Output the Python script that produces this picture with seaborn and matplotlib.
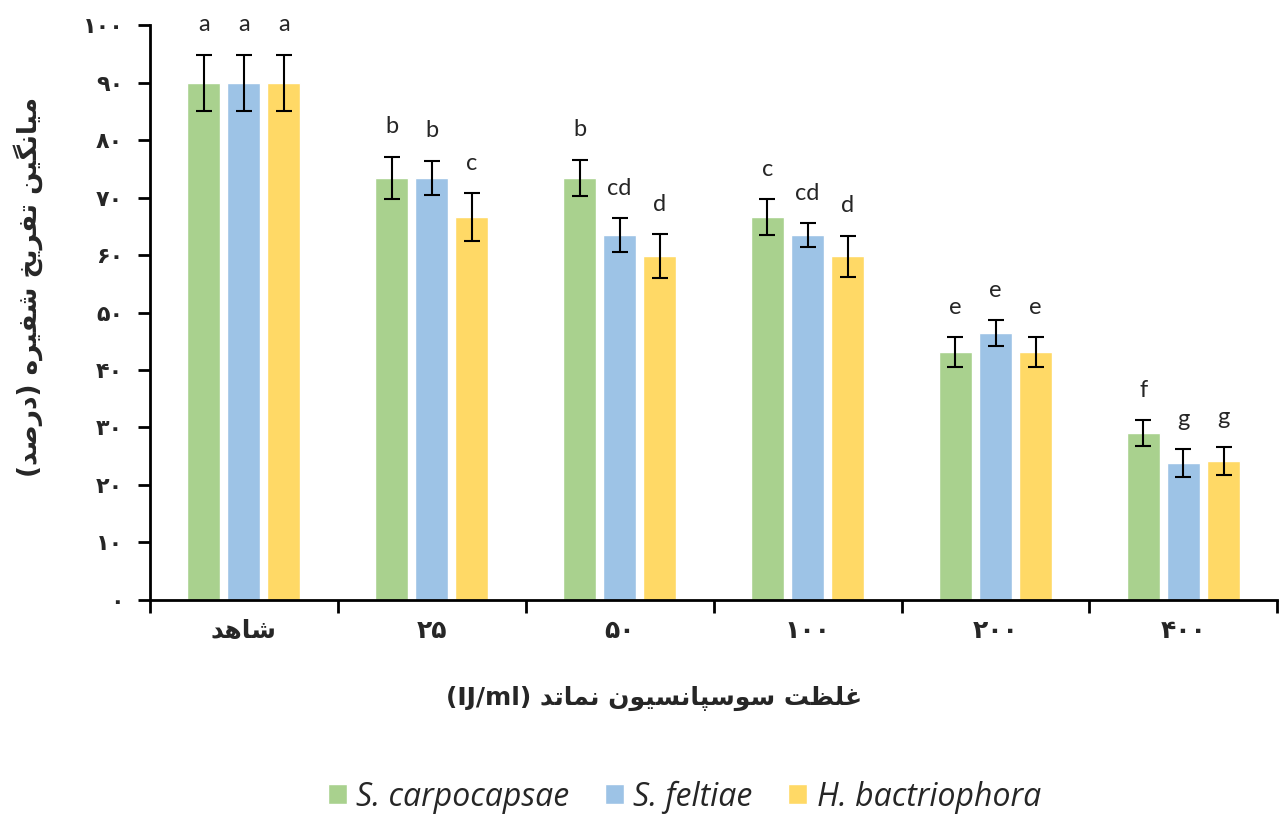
import matplotlib
matplotlib.use('Agg')

import matplotlib.pyplot as plt
import seaborn as sns
import pandas as pd
import numpy as np

# data
categories = ['شاهد', '۲۵', '۵۰', '۱۰۰', '۲۰۰', '۴۰۰']
species = ['S. carpocapsae', 'S. feltiae', 'H. bactriophora']
sc_mean = [90.0, 73.4, 73.4, 66.6, 43.1, 29.0]
sf_mean = [90.0, 73.4, 63.5, 63.5, 46.4, 23.8]
hb_mean = [90.0, 66.6, 59.8, 59.8, 43.1, 24.2]
sc_err = [4.9, 3.7, 3.2, 3.1, 2.6, 2.3]
sf_err = [4.9, 3.0, 2.9, 2.1, 2.3, 2.4]
hb_err = [4.9, 4.2, 3.8, 3.6, 2.6, 2.4]
sc_let = ['a', 'b', 'b', 'c', 'e', 'f']
sf_let = ['a', 'b', 'cd', 'cd', 'e', 'g']
hb_let = ['a', 'c', 'd', 'd', 'e', 'g']
yticks = [0, 10, 20, 30, 40, 50, 60, 70, 80, 90, 100]
ylabel = 'میانگین تفریخ شفیره (درصد)'
xlabel = 'غلظت سوسپانسیون نماتد (IJ/ml)'

colors = ['#a9d18e', '#9dc3e6', '#ffd966']

# matplotlib does no arabic shaping, so do it by hand
FORMS = {
    'ا': ('\uFE8D', '\uFE8E', None, None),
    'ت': ('\uFE95', '\uFE96', '\uFE97', '\uFE98'),
    'خ': ('\uFEA5', '\uFEA6', '\uFEA7', '\uFEA8'),
    'د': ('\uFEA9', '\uFEAA', None, None),
    'ر': ('\uFEAD', '\uFEAE', None, None),
    'س': ('\uFEB1', '\uFEB2', '\uFEB3', '\uFEB4'),
    'ش': ('\uFEB5', '\uFEB6', '\uFEB7', '\uFEB8'),
    'ص': ('\uFEB9', '\uFEBA', '\uFEBB', '\uFEBC'),
    'ظ': ('\uFEC5', '\uFEC6', '\uFEC7', '\uFEC8'),
    'غ': ('\uFECD', '\uFECE', '\uFECF', '\uFED0'),
    'ف': ('\uFED1', '\uFED2', '\uFED3', '\uFED4'),
    'ل': ('\uFEDD', '\uFEDE', '\uFEDF', '\uFEE0'),
    'م': ('\uFEE1', '\uFEE2', '\uFEE3', '\uFEE4'),
    'ن': ('\uFEE5', '\uFEE6', '\uFEE7', '\uFEE8'),
    'ه': ('\uFEE9', '\uFEEA', '\uFEEB', '\uFEEC'),
    'و': ('\uFEED', '\uFEEE', None, None),
    '\u06CC': ('\uFBFC', '\uFBFD', '\uFBFE', '\uFBFF'),
    '\u064A': ('\uFBFC', '\uFBFD', '\uFBFE', '\uFBFF'),
    'گ': ('\uFB92', '\uFB93', '\uFB94', '\uFB95'),
    'پ': ('\uFB56', '\uFB57', '\uFB58', '\uFB59'),
}


def shape_word(w):
    if w.isdigit():
        return w
    out = ''
    for i, ch in enumerate(w):
        if ch not in FORMS:
            out += ch
            continue
        f = FORMS[ch]
        prev_j = i > 0 and w[i-1] in FORMS and FORMS[w[i-1]][2] is not None
        next_j = f[2] is not None and i < len(w)-1 and w[i+1] in FORMS
        if prev_j and next_j:
            out += f[3]
        elif prev_j:
            out += f[1]
        elif next_j:
            out += f[2]
        else:
            out += f[0]
    return out[::-1]


def visual(s):
    # rtl line -> left-to-right glyph order
    words = s.split(' ')
    parts = []
    for w in reversed(words):
        if w.startswith('(') and w.endswith(')'):
            inner = w[1:-1]
            if inner.isascii():
                parts.append('(' + inner + ')')
            else:
                parts.append('(' + shape_word(inner) + ')')
        else:
            parts.append(shape_word(w))
    return ' '.join(parts)


rows = []
for s, m in zip(species, [sc_mean, sf_mean, hb_mean]):
    for c, v in zip(categories, m):
        rows.append({'cat': c, 'species': s, 'value': v})
df = pd.DataFrame(rows)

sns.set_style('white')
plt.rcParams['font.family'] = ['DejaVu Sans']

fig = plt.figure(figsize=(12.8, 8.15), dpi=100)
ax = fig.add_axes([0.117, 0.264, 0.881, 0.705])

sns.barplot(data=df, x='cat', y='value', hue='species', palette=colors,
            width=0.64, gap=0.18, errorbar=None, ax=ax, saturation=1)

errs = [sc_err, sf_err, hb_err]
lets = [sc_let, sf_let, hb_let]
bar_groups = list(ax.containers)
for k, cont in enumerate(bar_groups):
    for j, bar in enumerate(cont):
        xc = bar.get_x() + bar.get_width()/2
        h = bar.get_height()
        ax.errorbar(xc, h, yerr=errs[k][j], color='black', lw=1.5,
                    capsize=6, capthick=1.5)
        ax.text(xc, h + errs[k][j] + 5.2, lets[k][j], ha='center', va='center',
                fontsize=17, color='#262626', family='Lato')

ax.set_ylim(0, 100)
ax.set_xlim(-0.5, 5.5)
ax.set_yticks(yticks)
ax.set_yticklabels([''.join('۰۱۲۳۴۵۶۷۸۹'[int(d)] for d in str(t)) for t in yticks],
                   fontsize=16, fontweight='bold')
ax.set_xticks(range(len(categories)))
ax.set_xticklabels([visual(c) for c in categories], fontsize=18, fontweight='bold')
ax.set_xticks(np.arange(-0.5, 5.6, 1), minor=True)
ax.tick_params(axis='x', which='major', length=0, pad=14, bottom=True)
ax.tick_params(axis='x', which='minor', length=9, width=2, color='black', bottom=True)
ax.tick_params(axis='y', length=9, width=2, color='black', pad=10, left=True)

for sp in ['top', 'right']:
    ax.spines[sp].set_visible(False)
for sp in ['left', 'bottom']:
    ax.spines[sp].set_color('black')
    ax.spines[sp].set_linewidth(2)

ax.set_xlabel(visual(xlabel), fontsize=18, fontweight='bold')
ax.xaxis.set_label_coords(0.447, -0.15)
ax.set_ylabel(visual(ylabel), fontsize=19, fontweight='bold')
ax.yaxis.set_label_coords(-0.095, 0.545)

handles, labels = ax.get_legend_handles_labels()
ax.legend(handles, labels, loc='center', bbox_to_anchor=(0.474, -0.343),
          ncol=3, frameon=False, handlelength=0.6, handleheight=0.6,
          handletextpad=0.3, columnspacing=1.1,
          prop={'family': 'Open Sans', 'style': 'italic', 'size': 23})

fig.savefig('out.png', dpi=100)
